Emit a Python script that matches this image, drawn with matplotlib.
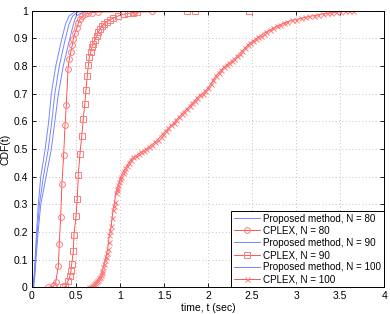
import matplotlib
matplotlib.use("Agg")
import matplotlib.pyplot as plt

# ---------------------------------------------------------------------------
# Data (CDF of solve time)
# ---------------------------------------------------------------------------
blue_y = [0, 0.05, 0.1, 0.2, 0.3, 0.4, 0.5, 0.6, 0.7, 0.8, 0.9, 0.95, 0.98, 0.995, 1.0]
prop80_t = [0.01, 0.025, 0.035, 0.052, 0.072, 0.10, 0.15, 0.19, 0.22, 0.27, 0.34, 0.38, 0.42, 0.48, 0.55]
prop90_t = [0.015, 0.03, 0.04, 0.06, 0.085, 0.13, 0.185, 0.225, 0.26, 0.31, 0.38, 0.42, 0.46, 0.52, 0.62]
prop100_t = [0.02, 0.035, 0.045, 0.07, 0.10, 0.16, 0.22, 0.26, 0.30, 0.355, 0.43, 0.47, 0.50, 0.58, 0.72]

cplex80_t = [0.18, 0.24, 0.255, 0.27, 0.30, 0.31, 0.326, 0.34, 0.36, 0.375, 0.39, 0.41, 0.424,
             0.44, 0.458, 0.47, 0.49, 0.51, 0.526, 0.545, 0.57, 0.60, 0.64, 0.68, 0.75,
             1.15, 1.17, 1.36]
cplex80_y = [0.0, 0.003, 0.01, 0.02, 0.078, 0.158, 0.254, 0.375, 0.48, 0.585, 0.66, 0.79, 0.825,
             0.85, 0.876, 0.898, 0.92, 0.937, 0.955, 0.97, 0.979, 0.987, 0.99, 0.993, 0.995,
             0.997, 0.998, 1.0]

cplex90_t = [0.356, 0.38, 0.41, 0.43, 0.443, 0.45, 0.47, 0.477, 0.50, 0.515, 0.526, 0.545,
             0.565, 0.583, 0.60, 0.614, 0.628, 0.64, 0.651, 0.667, 0.678, 0.697, 0.716,
             0.735, 0.753, 0.773, 0.79, 0.818, 0.85, 0.886, 0.92, 0.98, 1.04, 1.09, 1.15,
             1.19, 1.76, 1.85, 2.46]
cplex90_y = [0.0, 0.003, 0.023, 0.04, 0.059, 0.083, 0.13, 0.19, 0.257, 0.32, 0.407, 0.482,
             0.546, 0.61, 0.663, 0.714, 0.765, 0.802, 0.832, 0.85, 0.867, 0.88, 0.895,
             0.91, 0.922, 0.933, 0.943, 0.952, 0.96, 0.966, 0.973, 0.981, 0.987, 0.99, 0.993,
             0.995, 0.998, 0.999, 1.0]

cplex100_t = [0.65, 0.67, 0.68, 0.69, 0.70, 0.71, 0.72, 0.73, 0.74, 0.75, 0.76, 0.77, 0.78,
              0.79, 0.80, 0.81, 0.82, 0.83, 0.84, 0.85, 0.86, 0.87, 0.88, 0.89, 0.90, 0.91,
              0.92, 0.93, 0.94, 0.95, 0.96, 0.97, 0.98, 0.99, 1.00, 1.01, 1.03, 1.04, 1.06,
              1.08, 1.10, 1.12, 1.15, 1.18, 1.21, 1.24, 1.27, 1.30, 1.33, 1.36, 1.40, 1.43,
              1.46, 1.49, 1.52, 1.55, 1.58, 1.61, 1.64, 1.67, 1.70, 1.73, 1.76, 1.79, 1.82,
              1.85, 1.88, 1.91, 1.94, 1.97, 2.00, 2.03, 2.06, 2.09, 2.12, 2.15, 2.18, 2.21,
              2.24, 2.27, 2.30, 2.33, 2.36, 2.39, 2.42, 2.45, 2.48, 2.51, 2.54, 2.57, 2.60,
              2.63, 2.66, 2.70, 2.74, 2.78, 2.82, 2.86, 2.90, 2.95, 3.00, 3.05, 3.10, 3.15,
              3.20, 3.25, 3.30, 3.35, 3.40, 3.45, 3.50, 3.55, 3.60, 3.65]
cplex100_y = [0.0, 0.002, 0.004, 0.006, 0.008, 0.012, 0.015, 0.018, 0.022, 0.027, 0.032, 0.038,
              0.045, 0.052, 0.06, 0.072, 0.085, 0.098, 0.11, 0.125, 0.14, 0.165, 0.19, 0.205,
              0.22, 0.25, 0.28, 0.295, 0.31, 0.34, 0.35, 0.36, 0.37, 0.38, 0.39, 0.40, 0.415,
              0.42, 0.43, 0.44, 0.45, 0.46, 0.47, 0.475, 0.482, 0.488, 0.494, 0.50, 0.508,
              0.515, 0.525, 0.534, 0.545, 0.555, 0.565, 0.575, 0.585, 0.593, 0.605, 0.615,
              0.625, 0.635, 0.645, 0.655, 0.665, 0.675, 0.685, 0.695, 0.70, 0.71, 0.72, 0.735,
              0.75, 0.765, 0.775, 0.785, 0.795, 0.803, 0.81, 0.818, 0.825, 0.835, 0.845,
              0.855, 0.865, 0.875, 0.883, 0.89, 0.897, 0.904, 0.91, 0.917, 0.923, 0.93,
              0.937, 0.944, 0.95, 0.955, 0.96, 0.965, 0.968, 0.972, 0.976, 0.979, 0.982,
              0.985, 0.988, 0.99, 0.992, 0.994, 0.996, 0.998, 0.999, 1.0]

x_ticks = [0, 0.5, 1, 1.5, 2, 2.5, 3, 3.5, 4]
x_tick_labels = ["0", "0.5", "1", "1.5", "2", "2.5", "3", "3.5", "4"]
y_ticks = [0, 0.1, 0.2, 0.3, 0.4, 0.5, 0.6, 0.7, 0.8, 0.9, 1.0]
y_tick_labels = ["0", "0.1", "0.2", "0.3", "0.4", "0.5", "0.6", "0.7", "0.8", "0.9", "1"]

# ---------------------------------------------------------------------------
# Styling
# ---------------------------------------------------------------------------
plt.rcParams["font.family"] = ["Liberation Sans", "DejaVu Sans"]
plt.rcParams["font.size"] = 7.5

BLUE = "#7585ff"
RED = "#ff3a3a"
RED_MK = "#ff7a7a"

fig = plt.figure(figsize=(3.9, 3.14), dpi=100)
ax = fig.add_axes([0.082, 0.085, 0.903, 0.881])

mk = dict(markerfacecolor="none", markeredgecolor=RED_MK, markersize=4.2,
          markeredgewidth=0.7)

ax.plot(prop80_t, blue_y, color=BLUE, lw=0.7, label="Proposed method, N = 80")
ax.plot(cplex80_t, cplex80_y, color=RED, lw=0.6, marker="o",
        label="CPLEX, N = 80", **mk)
ax.plot(prop90_t, blue_y, color=BLUE, lw=0.7, label="Proposed method, N = 90")
ax.plot(cplex90_t, cplex90_y, color=RED, lw=0.6, marker="s",
        label="CPLEX, N = 90", **dict(mk, markersize=3.8))
ax.plot(prop100_t, blue_y, color=BLUE, lw=0.7, label="Proposed method, N = 100")
ax.plot(cplex100_t, cplex100_y, color=RED, lw=0.6, marker="x",
        label="CPLEX, N = 100", **dict(mk, markersize=3.6))

ax.set_xlim(0, 4)
ax.set_ylim(0, 1)
ax.set_xticks(x_ticks)
ax.set_xticklabels(x_tick_labels)
ax.set_yticks(y_ticks)
ax.set_yticklabels(y_tick_labels)
ax.tick_params(direction="in", top=True, right=True, length=3, width=0.6, pad=3)
ax.grid(True, linestyle=(0, (1, 3)), color="#b0b0b0", lw=0.6)
for s in ax.spines.values():
    s.set_linewidth(0.7)

ax.set_xlabel("time, t (sec)", labelpad=1)
ax.set_ylabel("CDF(t)", labelpad=2)

leg = ax.legend(loc="lower right", borderaxespad=0, fancybox=False,
                edgecolor="black", framealpha=1, handlelength=2.6,
                labelspacing=0.22, borderpad=0.3, handletextpad=0.35,
                fontsize=7.1)
leg.get_frame().set_linewidth(0.7)

fig.savefig("out.png", dpi=100)
